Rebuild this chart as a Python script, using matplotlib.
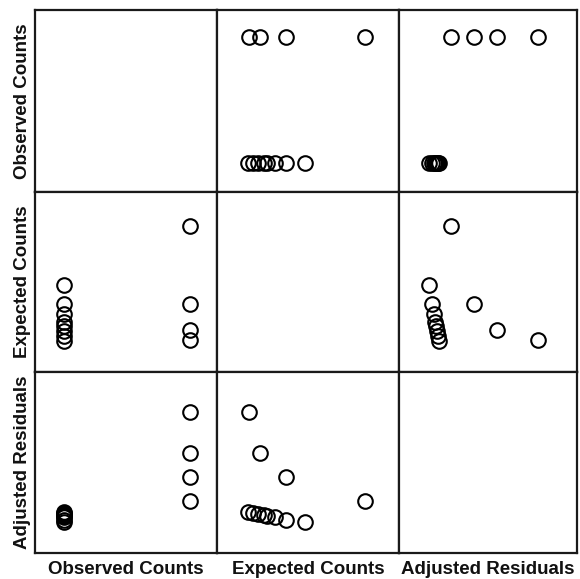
import matplotlib
matplotlib.use('Agg')
import matplotlib.pyplot as plt

variables = ["Observed Counts", "Expected Counts", "Adjusted Residuals"]
observed = [1, 1, 1, 1, 0, 0, 0, 0, 0, 0, 0, 0]
expected = [0.21, 0.29, 0.49, 1.10, 0.20, 0.24, 0.28, 0.32, 0.35, 0.41, 0.49, 0.64]
adj_resid = [5.3, 3.0, 1.7, 0.4, -0.25, -0.31, -0.37, -0.42, -0.48, -0.53, -0.65, -0.81]
data = [observed, expected, adj_resid]
limits = [(-0.227, 1.218), (-0.038, 1.362), (-2.5, 7.5)]

W, H = 580, 579
fig = plt.figure(figsize=(W / 100, H / 100), dpi=100)
fig.patch.set_facecolor('white')

col_edges = [35, 217, 399, 577]
row_edges = [10, 192, 372, 553]

for i in range(3):       # row -> y variable
    for j in range(3):   # col -> x variable
        x0, x1 = col_edges[j], col_edges[j + 1]
        y0, y1 = row_edges[i], row_edges[i + 1]
        ax = fig.add_axes([x0 / W, 1 - y1 / H, (x1 - x0) / W, (y1 - y0) / H])
        ax.set_xlim(limits[j])
        ax.set_ylim(limits[i])
        ax.set_xticks([])
        ax.set_yticks([])
        for s in ax.spines.values():
            s.set_linewidth(1.6)
            s.set_color('#1a1a1a')
        if i != j:
            ax.plot(data[j], data[i], 'o', mfc='none', mec='black', ms=10.5, mew=1.5)

font = dict(family='Liberation Sans', weight='bold', fontsize=13.5, color='#111111')
for k, name in enumerate(variables):
    xc = (col_edges[k] + col_edges[k + 1]) / 2
    fig.text(xc / W, 1 - 569 / H, name, ha='center', va='center', **font)
    yc = (row_edges[k] + row_edges[k + 1]) / 2
    fig.text(23 / W, 1 - yc / H, name, ha='center', va='center', rotation=90, **font)

fig.savefig('out.png', dpi=100)
